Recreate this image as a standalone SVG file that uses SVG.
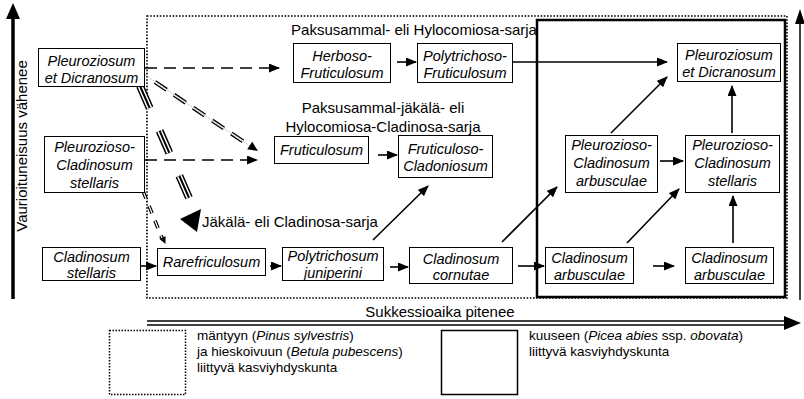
<svg xmlns="http://www.w3.org/2000/svg" width="804" height="399" viewBox="0 0 804 399">
<style>
text{font-family:"Liberation Sans",Arial,sans-serif;fill:#000}
.n rect{fill:#fff;stroke:#000;stroke-width:1}
.n text{font-size:14.5px;font-style:italic;text-anchor:middle}
.lab{font-size:15px}
.leg{font-size:13.5px}
.a{stroke:#000;stroke-width:1.6;fill:none;marker-end:url(#ah)}
.d{stroke:#000;stroke-width:1.6;fill:none;stroke-dasharray:12 7;marker-end:url(#ah)}
</style>
<defs>
<marker id="ah" markerUnits="userSpaceOnUse" markerWidth="11" markerHeight="9" refX="10" refY="4.5" orient="auto">
<path d="M0,0 L11,4.5 L0,9 z" fill="#000"/>
</marker>
</defs>
<rect x="0" y="0" width="804" height="399" fill="#fff"/>

<!-- frames -->
<rect x="147" y="16" width="640" height="282" fill="none" stroke="#000" stroke-width="1.6" stroke-dasharray="1.6 1.6"/>
<rect x="537" y="20" width="248" height="277" fill="none" stroke="#000" stroke-width="2.5"/>

<!-- axes -->
<line x1="13" y1="299" x2="13" y2="16" stroke="#000" stroke-width="3.5"/>
<polygon points="6,19 13,3 20,19" fill="#000"/>
<text class="lab" transform="translate(27,146) rotate(-90)" text-anchor="middle">Vaurioituneisuus vähenee</text>
<line x1="800" y1="300" x2="800" y2="20" stroke="#000" stroke-width="1.5"/>
<polygon points="795,24 800,9 805,24" fill="#000"/>
<line x1="147" y1="321" x2="788" y2="321" stroke="#000" stroke-width="1.3"/>
<line x1="147" y1="325" x2="788" y2="325" stroke="#000" stroke-width="1.3"/>
<polygon points="784,316 801,323 784,330" fill="#000"/>
<text class="lab" x="440" y="317" text-anchor="middle">Sukkessioaika pitenee</text>

<!-- section labels -->
<text class="lab" x="414" y="35" text-anchor="middle">Paksusammal- eli Hylocomiosa-sarja</text>
<text class="lab" x="383" y="113" text-anchor="middle">Paksusammal-jäkälä- eli</text>
<text class="lab" x="383" y="132" text-anchor="middle">Hylocomiosa-Cladinosa-sarja</text>
<text class="lab" x="202" y="227">Jäkälä- eli Cladinosa-sarja</text>

<!-- connectors -->
<g id="connectors">
<line class="d" x1="145" y1="68" x2="279" y2="68"/>
<line class="d" x1="145" y1="160" x2="257" y2="160"/>
<!-- double dashed to Fruticulosum -->
<line x1="155" y1="82" x2="250" y2="146" stroke="#000" stroke-width="4.2" stroke-dasharray="14 9"/>
<line x1="155" y1="82" x2="250" y2="146" stroke="#fff" stroke-width="1.6" stroke-dasharray="14 9"/>
<line x1="145" y1="75" x2="250" y2="146" stroke="#999" stroke-width="0.8" stroke-dasharray="1 1"/>
<polygon points="258,151 247.2,149.2 252.2,141.8" fill="#000"/>
<!-- triple dashed -->
<line x1="140" y1="86" x2="193" y2="207" stroke="#000" stroke-width="8" stroke-dasharray="24 25"/>
<line x1="140" y1="86" x2="193" y2="207" stroke="#fff" stroke-width="5" stroke-dasharray="24 25"/>
<line x1="140" y1="86" x2="193" y2="207" stroke="#000" stroke-width="2" stroke-dasharray="24 25"/>
<polygon points="180,219 201,209 197,232" fill="#000"/>
<!-- double dashed to Rarefriculosum -->
<line x1="143" y1="191" x2="162" y2="238" stroke="#000" stroke-width="3.6" stroke-dasharray="8 8"/>
<line x1="143" y1="191" x2="162" y2="238" stroke="#fff" stroke-width="1.2" stroke-dasharray="8 8"/>
<polygon points="165.5,244 159.2,238.8 165.6,236.2" fill="#000"/>
<!-- solid -->
<line class="a" x1="141" y1="266" x2="156" y2="266"/>
<line class="a" x1="270" y1="266" x2="281" y2="266"/>
<line class="a" x1="390" y1="267" x2="408" y2="267"/>
<line class="a" x1="518" y1="266" x2="544" y2="266"/>
<line class="a" x1="397" y1="62" x2="416" y2="62"/>
<line class="a" x1="512" y1="62" x2="667" y2="62"/>
<line class="a" x1="378" y1="155" x2="397" y2="155"/>
<line class="a" x1="373" y1="240" x2="428" y2="186"/>
<line class="a" x1="502" y1="242" x2="557" y2="187"/>
<line class="a" x1="660" y1="161" x2="683" y2="161"/>
<line class="a" x1="611" y1="133" x2="667" y2="77"/>
<line class="a" x1="732" y1="133" x2="732" y2="86"/>
<line class="a" x1="627" y1="243" x2="679" y2="189"/>
<line class="a" x1="653" y1="266" x2="674" y2="266"/>
<line class="a" x1="733" y1="243" x2="733" y2="196"/>
</g>

<!-- nodes -->
<g id="n1" class="n"><rect x="38.5" y="48.5" width="106" height="38"/><text x="91.5" y="66">Pleuroziosum</text><text x="91.5" y="83">et Dicranosum</text></g>
<g id="n2" class="n"><rect x="44.5" y="136.5" width="100" height="56"/><text x="94.5" y="152">Pleurozioso-</text><text x="94.5" y="170">Cladinosum</text><text x="94.5" y="188">stellaris</text></g>
<g id="n3" class="n"><rect x="42.5" y="247.5" width="98" height="33"/><text x="91.5" y="261.5">Cladinosum</text><text x="91.5" y="278">stellaris</text></g>
<g id="n4" class="n"><rect x="157.5" y="248.5" width="108" height="27"/><text x="211.5" y="267">Rarefriculosum</text></g>
<g id="n5" class="n"><rect x="282.5" y="247.5" width="101" height="33"/><text x="333" y="261">Polytrichosum</text><text x="333" y="277.5">juniperini</text></g>
<g id="n6" class="n"><rect x="409.5" y="247.5" width="103" height="36"/><text x="461" y="263.5">Cladinosum</text><text x="461" y="280">cornutae</text></g>
<g id="n7" class="n"><rect x="293.5" y="43.5" width="97" height="39"/><text x="342" y="61">Herboso-</text><text x="342" y="78">Fruticulosum</text></g>
<g id="n8" class="n"><rect x="417.5" y="43.5" width="95" height="39"/><text x="465" y="61">Polytrichoso-</text><text x="465" y="78">Fruticulosum</text></g>
<g id="n9" class="n"><rect x="274.5" y="136.5" width="94" height="27"/><text x="321.5" y="155">Fruticulosum</text></g>
<g id="n10" class="n"><rect x="398.5" y="135.5" width="94" height="42"/><text x="445.5" y="154">Fruticuloso-</text><text x="445.5" y="171">Cladoniosum</text></g>
<g id="n11" class="n"><rect x="677.5" y="43.5" width="103" height="38"/><text x="729" y="59.5">Pleuroziosum</text><text x="729" y="77">et Dicranosum</text></g>
<g id="n12" class="n"><rect x="565.5" y="135.5" width="92" height="57"/><text x="611.5" y="150">Pleurozioso-</text><text x="611.5" y="168">Cladinosum</text><text x="611.5" y="186">arbusculae</text></g>
<g id="n13" class="n"><rect x="685.5" y="135.5" width="94" height="57"/><text x="732.5" y="150">Pleurozioso-</text><text x="732.5" y="168">Cladinosum</text><text x="732.5" y="186">stellaris</text></g>
<g id="n14" class="n"><rect x="545.5" y="247.5" width="88" height="36"/><text x="589.5" y="263">Cladinosum</text><text x="589.5" y="280">arbusculae</text></g>
<g id="n15" class="n"><rect x="685.5" y="247.5" width="88" height="36"/><text x="729.5" y="263">Cladinosum</text><text x="729.5" y="280">arbusculae</text></g>

<!-- legend -->
<g id="legend">
<rect x="109.5" y="330.5" width="76" height="64" fill="none" stroke="#000" stroke-width="1.5" stroke-dasharray="1.5 1.5"/>
<text class="leg" x="197" y="340">mäntyyn (<tspan font-style="italic">Pinus sylvestris</tspan>)</text>
<text class="leg" x="197" y="356">ja hieskoivuun (<tspan font-style="italic">Betula pubescens</tspan>)</text>
<text class="leg" x="197" y="372">liittyvä kasviyhdyskunta</text>
<rect x="441.5" y="330.5" width="76" height="64" fill="none" stroke="#000" stroke-width="1.5"/>
<text class="leg" x="529" y="340">kuuseen (<tspan font-style="italic">Picea abies</tspan> ssp. <tspan font-style="italic">obovata</tspan>)</text>
<text class="leg" x="529" y="356">liittyvä kasviyhdyskunta</text>
</g>
</svg>
